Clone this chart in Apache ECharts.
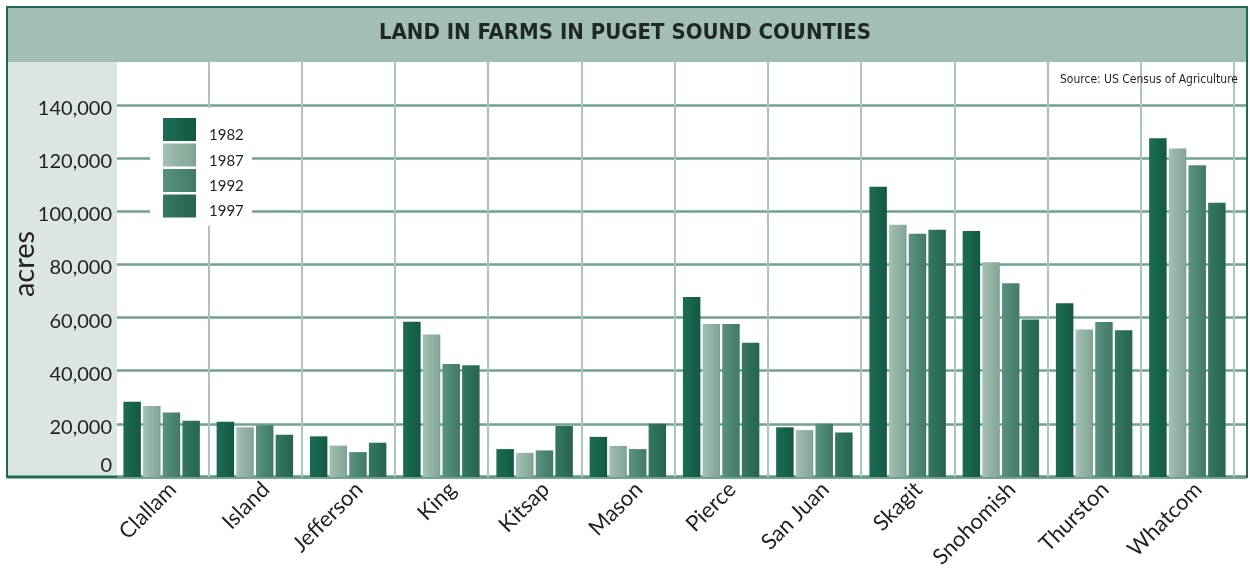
<!DOCTYPE html>
<html>
<head>
<meta charset="utf-8">
<script src="https://cdn.jsdelivr.net/npm/echarts@6/dist/echarts.min.js"></script>
<style>
html,body{margin:0;padding:0;background:#fff;}
#chart{width:1250px;height:571px;}
</style>
</head>
<body>
<div id="chart"></div>
<script>
// ---- data ----
const categories = ['Clallam','Island','Jefferson','King','Kitsap','Mason','Pierce','San Juan','Skagit','Snohomish','Thurston','Whatcom'];
const years = ['1982','1987','1992','1997'];
const acres1982 = [28350, 20800, 15300, 58400, 10500, 15100, 67700, 18700, 109200, 92550, 65400, 127500];
const acres1987 = [26700, 18700, 11800, 53600, 9100, 11700, 57600, 17650, 94900, 80800, 55500, 123650];
const acres1992 = [24250, 19500, 9350, 42550, 10000, 10500, 57600, 20000, 91500, 72900, 58300, 117350];
const acres1997 = [21150, 15900, 12900, 42050, 19200, 20000, 50500, 16750, 93050, 59300, 55200, 103250];
const yTickMax = 140000;
const yTickStep = 20000;
const titleText = 'LAND IN FARMS IN PUGET SOUND COUNTIES';
const sourceText = 'Source: US Census of Agriculture';
const yName = 'acres';

// ---- styles ----
const seriesData = [acres1982, acres1987, acres1992, acres1997];
const G = echarts.graphic.LinearGradient;
const barFills = [
  new G(0,0,1,0,[{offset:0,color:'#1d6c55'},{offset:0.4,color:'#19654f'},{offset:1,color:'#125942'}]),
  new G(0,0,1,0,[{offset:0,color:'#a6c2b6'},{offset:0.3,color:'#97b6a9'},{offset:0.85,color:'#87a999'},{offset:1,color:'#7c9f8f'}]),
  new G(0,0,1,0,[{offset:0,color:'#5b937f'},{offset:0.4,color:'#4f8874'},{offset:1,color:'#417a66'}]),
  new G(0,0,1,0,[{offset:0,color:'#367860'},{offset:0.4,color:'#2f705a'},{offset:1,color:'#26664f'}])
];
const textColor = '#231f20';
const W = 1250, H = 571;
const plotTop = 62, tickTop = 105, axisY = 477;
const barLeft = 115, barRight = 1234;
const labelDx = 11;
const yMax0 = yTickMax * (axisY - plotTop) / (axisY - tickTop);
const narrow = "'Liberation Sans Narrow','DejaVu Sans Condensed',sans-serif";

const chart = echarts.init(document.getElementById('chart'), null, {renderer:'canvas'});

const option = {
  animation: false,
  backgroundColor: '#ffffff',
  title: [
    {text: titleText, left: 'center', top: 20, padding: 0,
     textStyle: {fontFamily: narrow, fontWeight: 'bold', fontSize: 22, color: '#1e2824', lineHeight: 26}},
    {text: sourceText, right: 12, top: 73, padding: 0,
     textStyle: {fontFamily: narrow, fontWeight: 'normal', fontSize: 12, color: textColor, lineHeight: 14}}
  ],
  graphic: [
    {type:'rect', z:-100, shape:{x:7, y:7, width:1240, height:470}, style:{fill:'#ffffff', stroke:'#1f6a55', lineWidth:2}},
    {type:'rect', z:-99, shape:{x:8, y:8, width:1238, height:54}, style:{fill:'#a3beb5'}},
    {type:'rect', z:-99, shape:{x:8, y:62, width:109, height:414}, style:{fill:'#dbe5e1'}},
    {type:'rect', z:-98, shape:{x:7, y:475.5, width:1240, height:3}, style:{fill:'#1f6a55'}}
  ],
  legend: [
    {data: years, orient: 'vertical', left: 150, top: 108,
     padding: [10, 56, 8, 13], backgroundColor: '#ffffff',
     itemWidth: 33, itemHeight: 23, itemGap: 2.5, icon: 'rect', selectedMode: false,
     formatter: function(){ return ''; },
     textStyle: {fontSize: 1}},
    {data: years, orient: 'vertical', left: 204, top: 124, z: 6,
     padding: 0, itemWidth: 0, itemHeight: 23, itemGap: 6.3, icon: 'none', selectedMode: false,
     textStyle: {fontFamily: 'Lato', fontSize: 15, color: textColor}}
  ],
  grid: [
    {left: barLeft, right: W - barRight, top: plotTop, bottom: H - axisY},
    {left: 117, right: W - 1246, top: tickTop, bottom: H - axisY},
    {left: barLeft + labelDx, right: W - barRight - labelDx, top: plotTop, bottom: H - axisY}
  ],
  xAxis: [
    {type: 'category', gridIndex: 0, data: categories,
     axisLine: {show: false}, axisTick: {show: false}, axisLabel: {show: false},
     splitLine: {show: true, interval: function(i){ return i > 0 && i < categories.length; }, lineStyle: {color: '#aac6bc', width: 2}}},
    {type: 'value', gridIndex: 1, min: 0, max: 1, show: false},
    {type: 'category', gridIndex: 2, data: categories,
     axisLine: {show: false}, axisTick: {show: false}, splitLine: {show: false},
     axisLabel: {interval: 0, rotate: 45, margin: 13, hideOverlap: false,
                 fontFamily: 'Lato', fontSize: 22, color: textColor}}
  ],
  yAxis: [
    {type: 'value', gridIndex: 0, min: 0, max: yMax0,
     axisLine: {show: false}, axisTick: {show: false}, axisLabel: {show: false}, splitLine: {show: false},
     name: yName, nameLocation: 'middle', nameRotate: 90, nameGap: 76,
     nameTextStyle: {fontFamily: 'Lato', fontSize: 29, color: textColor, padding: [0,0,0,11]}},
    {type: 'value', gridIndex: 1, min: 0, max: yTickMax, interval: yTickStep,
     axisLine: {show: false}, axisTick: {show: false},
     splitLine: {show: true, lineStyle: {color: '#72a190', width: 2.5}},
     axisLabel: {margin: 5, padding: [7,0,0,0], fontFamily: 'Lato', fontSize: 20, color: textColor,
       formatter: function(v){ return v === 0 ? '{z|0}' : echarts.format.addCommas(v); },
       rich: {z: {fontFamily: 'Lato', fontSize: 20, color: textColor, padding: [0,0,29,0]}}}},
    {type: 'value', gridIndex: 2, min: 0, max: 1, show: false}
  ],
  series: years.map(function(y, i){
    return {
      name: y, type: 'bar', xAxisIndex: 0, yAxisIndex: 0,
      data: seriesData[i],
      barCategoryGap: '18%', barGap: '12.5%',
      itemStyle: {color: barFills[i]},
      z: 3
    };
  })
};
chart.setOption(option);
</script>
</body>
</html>
